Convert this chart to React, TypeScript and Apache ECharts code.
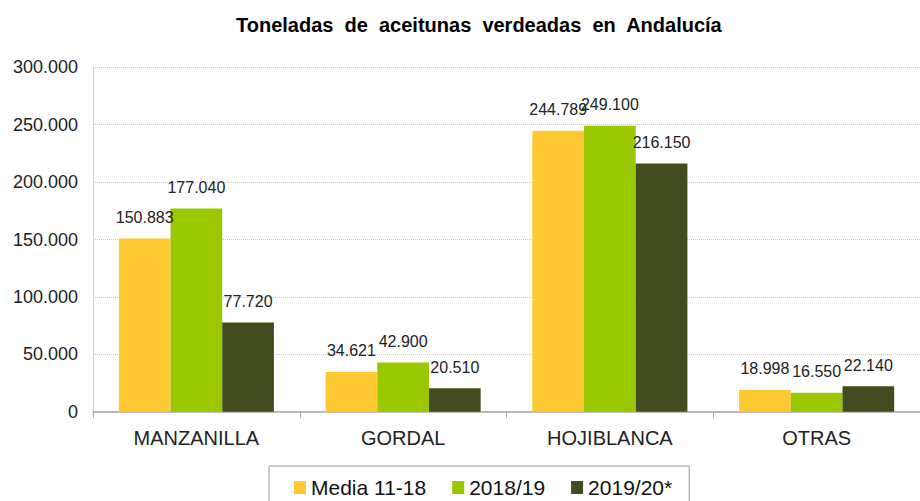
import React, { useEffect, useRef } from "react";
import * as echarts from "echarts";

const categories = ["MANZANILLA", "GORDAL", "HOJIBLANCA", "OTRAS"];
const seriesNames = ["Media 11-18", "2018/19", "2019/20*"];
const media1118 = [150883, 34621, 244789, 18998];
const s201819 = [177040, 42900, 249100, 16550];
const s201920 = [77720, 20510, 216150, 22140];
const colors = ["#FFC933", "#99C800", "#434C1E"];
const yMin = 0;
const yMax = 300000;
const yInterval = 50000;

const fmt = (v: number) =>
  String(Math.round(v)).replace(/\B(?=(\d{3})+(?!\d))/g, ".");

const FONT = "'Liberation Sans', Arial, sans-serif";

export default function App() {
  const ref = useRef<HTMLDivElement>(null);
  useEffect(() => {
    if (!ref.current) return;
    const chart = echarts.init(ref.current, undefined, { renderer: "svg" });
    const data = [media1118, s201819, s201920];
    chart.setOption({
      animation: false,
      backgroundColor: "#ffffff",
      textStyle: { fontFamily: FONT },
      title: {
        text: "Toneladas  de  aceitunas  verdeadas  en  Andalucía",
        left: 231,
        top: 10,
        textStyle: { fontFamily: FONT, fontSize: 20, fontWeight: "bold", color: "#000" },
      },
      legend: {
        left: 269,
        top: 466,
        padding: [11, 17, 11, 25],
        borderColor: "#9a9a9a",
        borderWidth: 1,
        itemWidth: 12,
        itemHeight: 13,
        itemGap: 26,
        icon: "rect",
        textStyle: { fontFamily: FONT, fontSize: 21, color: "#111" },
        data: seriesNames,
      },
      grid: { left: 93, top: 67.3, width: 837, bottom: 89.3, containLabel: false },
      xAxis: {
        type: "category",
        data: categories,
        axisLine: { show: true, lineStyle: { color: "#a8a8a8", width: 1.5 } },
        axisTick: { show: true, alignWithLabel: false, length: 6, lineStyle: { color: "#a8a8a8" } },
        axisLabel: { fontFamily: FONT, fontSize: 20, color: "#222", margin: 16, interval: 0 },
      },
      yAxis: {
        type: "value",
        min: yMin,
        max: yMax,
        interval: yInterval,
        axisLine: { show: true, lineStyle: { color: "#c0cacc", type: "dotted" } },
        axisTick: { show: false },
        splitLine: { show: true, lineStyle: { color: "#c0ccd0", type: "dotted" } },
        axisLabel: {
          fontFamily: FONT,
          fontSize: 18,
          color: "#222",
          margin: 15,
          formatter: (v: number) => fmt(v),
        },
      },
      series: seriesNames.map((name, i) => ({
        name,
        type: "bar",
        data: data[i],
        barGap: "0%",
        barCategoryGap: "25%",
        itemStyle: { color: colors[i] },
        label: {
          show: true,
          position: "top",
          distance: 13,
          fontFamily: FONT,
          fontSize: 16,
          color: "#222",
          formatter: (p: any) => fmt(p.value),
        },
      })),
    });
    return () => chart.dispose();
  }, []);
  return (
    <div
      ref={ref}
      style={{ position: "fixed", left: 0, top: 0, width: 920, height: 501 }}
    />
  );
}
